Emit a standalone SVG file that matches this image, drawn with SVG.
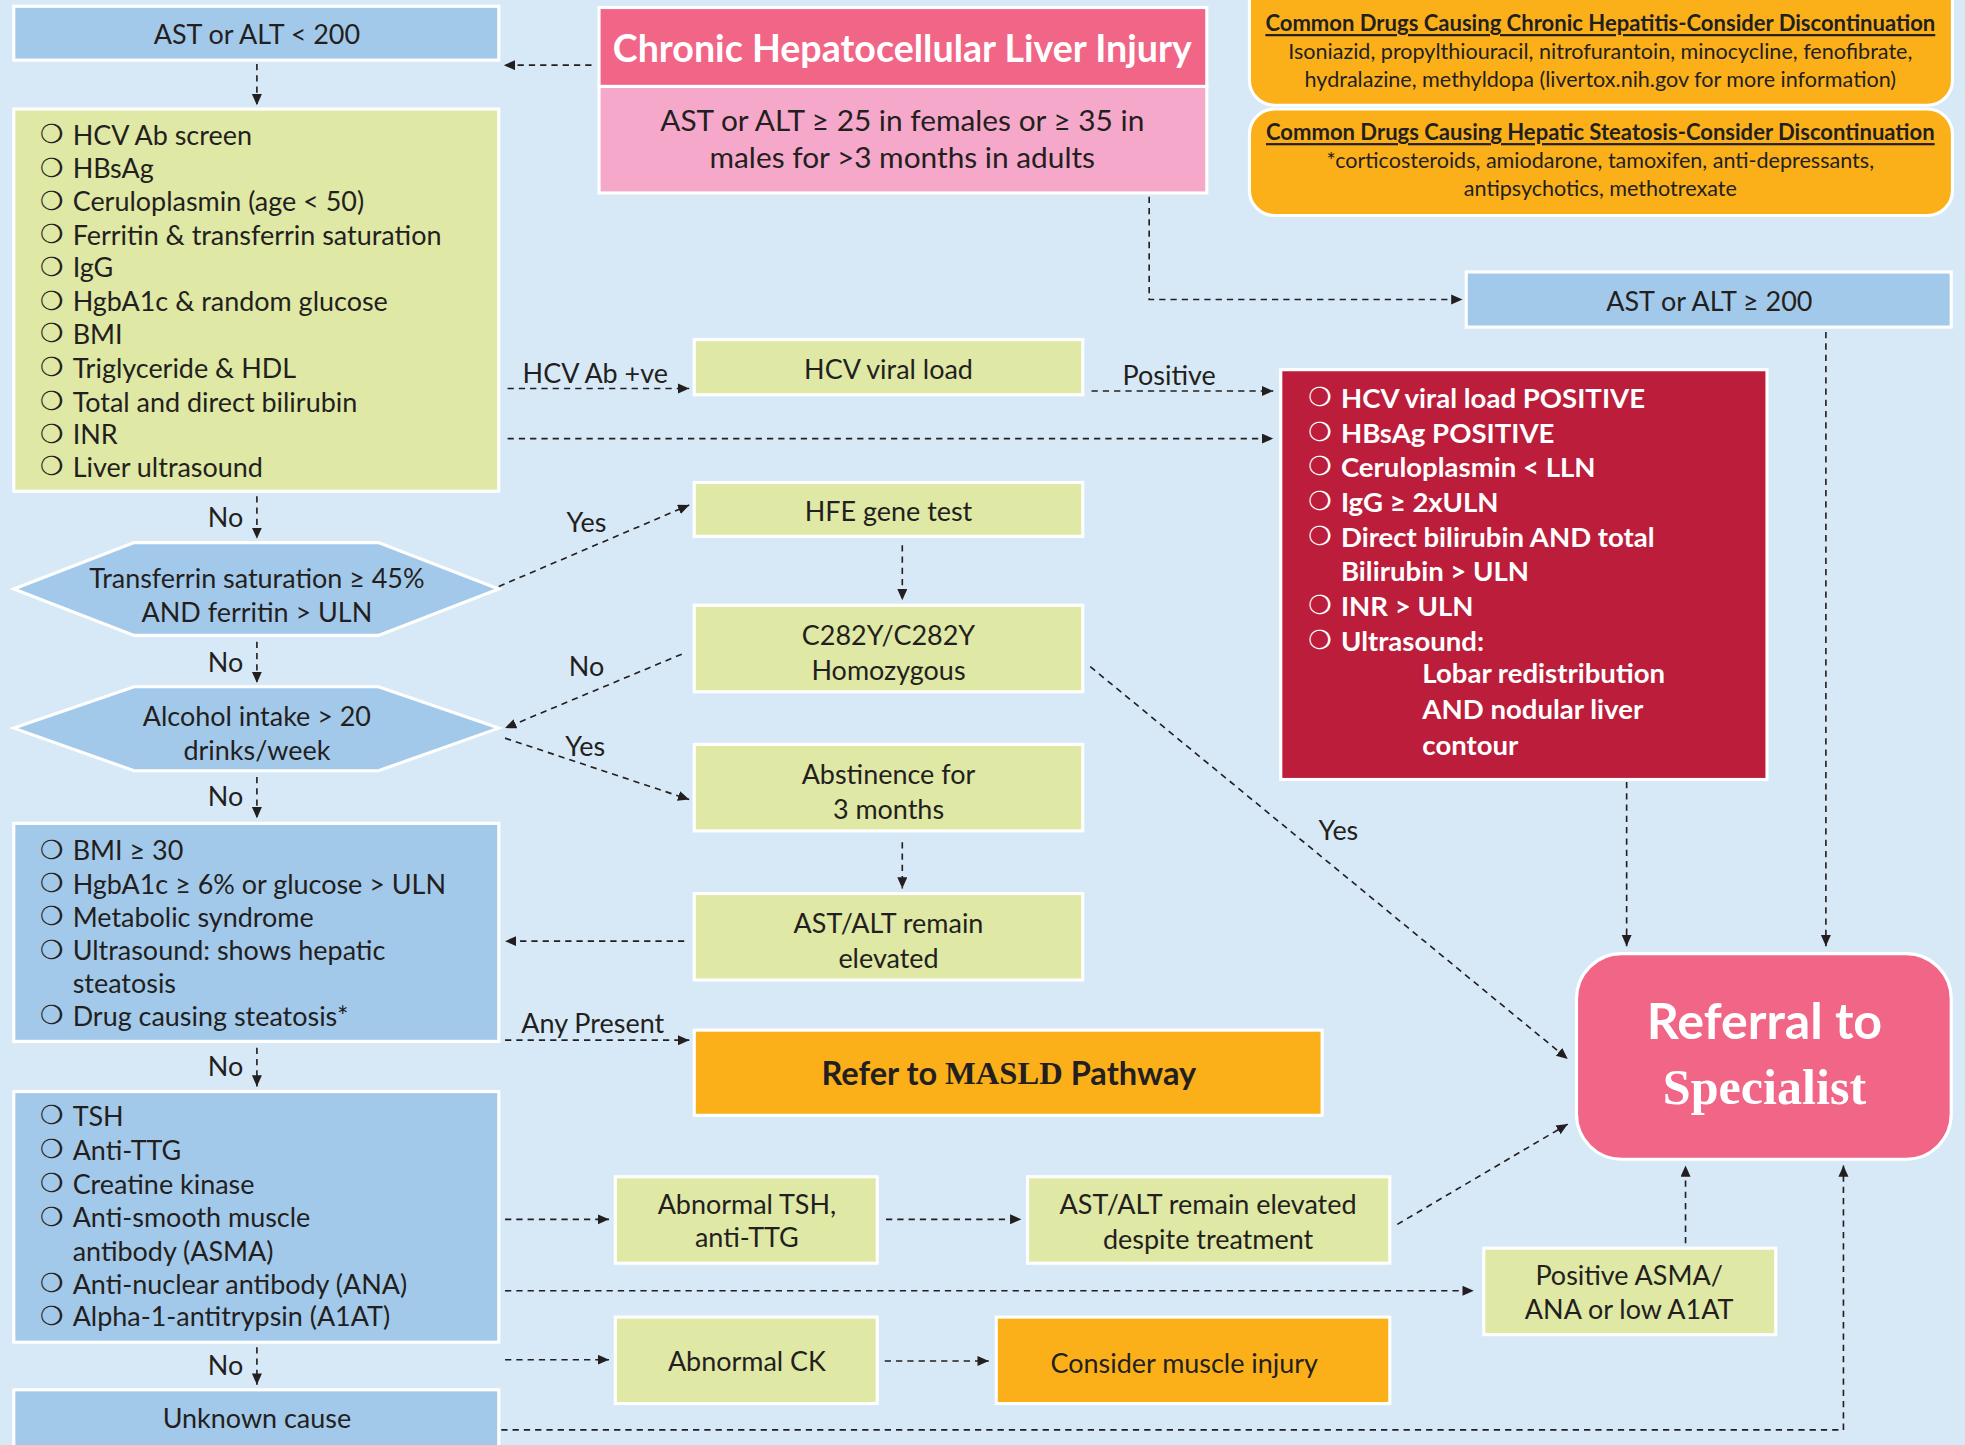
<svg xmlns="http://www.w3.org/2000/svg" width="1965" height="1445" viewBox="0 0 1965 1445">
<defs>
<marker id="ah" markerUnits="userSpaceOnUse" markerWidth="10" markerHeight="10" refX="9" refY="4" orient="auto">
<path d="M0,0 L9,4 L0,8 z" fill="#231F20"/>
</marker>
<style>
text{font-family:Lato,"Open Sans","DejaVu Sans",sans-serif;fill:#231F20;dominant-baseline:central}
.c{text-anchor:middle}
.b{font-family:"DejaVu Sans",sans-serif;font-size:21px;font-weight:normal}
.t20{font-size:21.5px}
.t22{font-size:23.8px}
.w{fill:#FFFFFF}
.bold{font-weight:bold}
.rb{font-size:22px;font-weight:bold}
.blue{fill:#A3C9EA;stroke:#FFFFFF;stroke-width:2.5}
.green{fill:#DFE8A4;stroke:#FFFFFF;stroke-width:2.5}
.orange{fill:#FBB01A;stroke:#FFFFFF;stroke-width:2.5}
.red{fill:#BB1D3A;stroke:#FFFFFF;stroke-width:2.5}
.pink{fill:#F16587;stroke:#FFFFFF;stroke-width:2.5}
.lpink{fill:#F5A8C9;stroke:#FFFFFF;stroke-width:2.5}
.conn path{fill:none;stroke:#231F20;stroke-width:1.3;stroke-dasharray:5 4;marker-end:url(#ah)}
.lbl{font-size:21.5px;text-anchor:middle}
.dh{font-size:17.6px;font-weight:bold;text-decoration:underline}
.db{font-size:17.2px}
</style>
</defs>
<rect x="0" y="0" width="1965" height="1445" fill="#D7E9F6"/>
<g transform="scale(1.25319)">

<g id="ast-lt-200">
<rect class="blue" x="11" y="5" width="387" height="43"/>
<text class="c t20" x="205" y="27">AST or ALT &lt; 200</text>
</g>

<g id="title">
<rect class="pink" x="478" y="6" width="485" height="63"/>
<text class="c w bold" x="720" y="38" style="font-size:30px">Chronic Hepatocellular Liver Injury</text>
<rect class="lpink" x="478" y="69" width="485" height="85"/>
<text class="c t22" x="720" y="95">AST or ALT ≥ 25 in females or ≥ 35 in</text>
<text class="c t22" x="720" y="125">males for &gt;3 months in adults</text>
</g>

<g id="drugs-hepatitis">
<rect x="997" y="-20" width="561" height="104" rx="20" fill="#FBB01A" stroke="#FFFFFF" stroke-width="2.5"/>
<text class="c dh" x="1277" y="18">Common Drugs Causing Chronic Hepatitis-Consider Discontinuation</text>
<text class="c db" x="1277" y="41">Isoniazid, propylthiouracil, nitrofurantoin, minocycline, fenofibrate,</text>
<text class="c db" x="1277" y="63">hydralazine, methyldopa (livertox.nih.gov for more information)</text>
</g>

<g id="drugs-steatosis">
<rect x="997" y="87" width="561" height="85" rx="20" fill="#FBB01A" stroke="#FFFFFF" stroke-width="2.5"/>
<text class="c dh" x="1277" y="105">Common Drugs Causing Hepatic Steatosis-Consider Discontinuation</text>
<text class="c db" x="1277" y="128">*corticosteroids, amiodarone, tamoxifen, anti-depressants,</text>
<text class="c db" x="1277" y="150">antipsychotics, methotrexate</text>
</g>

<g id="ast-ge-200">
<rect class="blue" x="1170" y="217" width="387" height="44"/>
<text class="c t20" x="1364" y="240">AST or ALT ≥ 200</text>
</g>

<g id="initial-tests">
<rect class="green" x="11" y="87" width="387" height="305"/>
<g class="t20">
<text class="b" x="32" y="107">❍</text><text x="58" y="107">HCV Ab screen</text>
<text class="b" x="32" y="134">❍</text><text x="58" y="134">HBsAg</text>
<text class="b" x="32" y="160">❍</text><text x="58" y="160">Ceruloplasmin (age &lt; 50)</text>
<text class="b" x="32" y="187">❍</text><text x="58" y="187">Ferritin &amp; transferrin saturation</text>
<text class="b" x="32" y="213">❍</text><text x="58" y="213">IgG</text>
<text class="b" x="32" y="240">❍</text><text x="58" y="240">HgbA1c &amp; random glucose</text>
<text class="b" x="32" y="266">❍</text><text x="58" y="266">BMI</text>
<text class="b" x="32" y="293">❍</text><text x="58" y="293">Triglyceride &amp; HDL</text>
<text class="b" x="32" y="320">❍</text><text x="58" y="320">Total and direct bilirubin</text>
<text class="b" x="32" y="346">❍</text><text x="58" y="346">INR</text>
<text class="b" x="32" y="372">❍</text><text x="58" y="372">Liver ultrasound</text>
</g>
</g>

<g id="hcv-viral-load">
<rect class="green" x="554" y="271" width="310" height="44"/>
<text class="c t20" x="709" y="294">HCV viral load</text>
</g>

<g id="red-flags">
<rect class="red" x="1022" y="295" width="388" height="327"/>
<text class="b w" x="1044" y="317">❍</text><text class="w rb" x="1070" y="317">HCV viral load POSITIVE</text>
<text class="b w" x="1044" y="345">❍</text><text class="w rb" x="1070" y="345">HBsAg POSITIVE</text>
<text class="b w" x="1044" y="372">❍</text><text class="w rb" x="1070" y="372">Ceruloplasmin &lt; LLN</text>
<text class="b w" x="1044" y="400">❍</text><text class="w rb" x="1070" y="400">IgG ≥ 2xULN</text>
<text class="b w" x="1044" y="428">❍</text><text class="w rb" x="1070" y="428">Direct bilirubin AND total</text>
<text class="w rb" x="1070" y="455">Bilirubin &gt; ULN</text>
<text class="b w" x="1044" y="483">❍</text><text class="w rb" x="1070" y="483">INR &gt; ULN</text>
<text class="b w" x="1044" y="511">❍</text><text class="w rb" x="1070" y="511">Ultrasound:</text>
<text class="w rb" x="1135" y="537">Lobar redistribution</text>
<text class="w rb" x="1135" y="565">AND nodular liver</text>
<text class="w rb" x="1135" y="594">contour</text>
</g>

<g id="transferrin">
<polygon class="blue" points="11,470 107,433 302,433 398,470 302,507 107,507"/>
<text class="c t20" x="205" y="461">Transferrin saturation ≥ 45%</text>
<text class="c t20" x="205" y="488">AND ferritin &gt; ULN</text>
</g>

<g id="alcohol">
<polygon class="blue" points="11,581 107,548 302,548 398,581 302,615 107,615"/>
<text class="c t20" x="205" y="571">Alcohol intake &gt; 20</text>
<text class="c t20" x="205" y="598">drinks/week</text>
</g>

<g id="metabolic">
<rect class="blue" x="11" y="657" width="387" height="174"/>
<g class="t20">
<text class="b" x="32" y="678">❍</text><text x="58" y="678">BMI ≥ 30</text>
<text class="b" x="32" y="705">❍</text><text x="58" y="705">HgbA1c ≥ 6% or glucose &gt; ULN</text>
<text class="b" x="32" y="731">❍</text><text x="58" y="731">Metabolic syndrome</text>
<text class="b" x="32" y="758">❍</text><text x="58" y="758">Ultrasound: shows hepatic</text>
<text x="58" y="784">steatosis</text>
<text class="b" x="32" y="810">❍</text><text x="58" y="810">Drug causing steatosis*</text>
</g>
</g>

<g id="other-tests">
<rect class="blue" x="11" y="871" width="387" height="200"/>
<g class="t20">
<text class="b" x="32" y="890">❍</text><text x="58" y="890">TSH</text>
<text class="b" x="32" y="917">❍</text><text x="58" y="917">Anti-TTG</text>
<text class="b" x="32" y="944">❍</text><text x="58" y="944">Creatine kinase</text>
<text class="b" x="32" y="971">❍</text><text x="58" y="971">Anti-smooth muscle</text>
<text x="58" y="998">antibody (ASMA)</text>
<text class="b" x="32" y="1024">❍</text><text x="58" y="1024">Anti-nuclear antibody (ANA)</text>
<text class="b" x="32" y="1050">❍</text><text x="58" y="1050">Alpha-1-antitrypsin (A1AT)</text>
</g>
</g>

<g id="unknown">
<rect class="blue" x="11" y="1109" width="387" height="50"/>
<text class="c t20" x="205" y="1131">Unknown cause</text>
</g>

<g id="hfe">
<rect class="green" x="554" y="385" width="310" height="43"/>
<text class="c t20" x="709" y="407">HFE gene test</text>
</g>

<g id="c282y">
<rect class="green" x="554" y="483" width="310" height="69"/>
<text class="c t20" x="709" y="506">C282Y/C282Y</text>
<text class="c t20" x="709" y="534">Homozygous</text>
</g>

<g id="abstinence">
<rect class="green" x="554" y="594" width="310" height="69"/>
<text class="c t20" x="709" y="617">Abstinence for</text>
<text class="c t20" x="709" y="645">3 months</text>
</g>

<g id="remain-elevated">
<rect class="green" x="554" y="713" width="310" height="69"/>
<text class="c t20" x="709" y="736">AST/ALT remain</text>
<text class="c t20" x="709" y="764">elevated</text>
</g>

<g id="masld">
<rect class="orange" x="554" y="822" width="501" height="68"/>
<text class="c bold" x="805" y="856" style="font-size:26px">Refer to <tspan style="font-family:'Liberation Serif',serif">MASLD</tspan> Pathway</text>
</g>

<g id="abnormal-tsh">
<rect class="green" x="491" y="939" width="209" height="69"/>
<text class="c t20" x="596" y="960">Abnormal TSH,</text>
<text class="c t20" x="596" y="987">anti-TTG</text>
</g>

<g id="elevated-despite">
<rect class="green" x="820" y="939" width="289" height="69"/>
<text class="c t20" x="964" y="960">AST/ALT remain elevated</text>
<text class="c t20" x="964" y="988">despite treatment</text>
</g>

<g id="positive-asma">
<rect class="green" x="1184" y="996" width="233" height="69"/>
<text class="c t20" x="1300" y="1017">Positive ASMA/</text>
<text class="c t20" x="1300" y="1044">ANA or low A1AT</text>
</g>

<g id="abnormal-ck">
<rect class="green" x="491" y="1051" width="209" height="69"/>
<text class="c t20" x="596" y="1086">Abnormal CK</text>
</g>

<g id="muscle">
<rect class="orange" x="795" y="1051" width="314" height="69"/>
<text class="c t20" x="945" y="1087">Consider muscle injury</text>
</g>

<g id="referral">
<rect x="1258" y="761" width="299" height="164" rx="36" fill="#F16587" stroke="#FFFFFF" stroke-width="2.5"/>
<text class="c w bold" x="1408" y="814" style="font-size:40px">Referral to</text>
<text class="c w bold" x="1408" y="867" style="font-size:40px;font-family:'Liberation Serif',serif">Specialist</text>
</g>

<g id="connectors" class="conn">
<path d="M472,52 L402,52"/>
<path d="M205,51 L205,84"/>
<path d="M917,157 L917,239 L1167,239"/>
<path d="M1457,265 L1457,755"/>
<path d="M405,310 L550,310"/>
<path d="M871,312 L1016,312"/>
<path d="M405,350 L1016,350"/>
<path d="M205,396 L205,430"/>
<path d="M398,468 L550,403"/>
<path d="M720,435 L720,479"/>
<path d="M544,522 L403,581"/>
<path d="M205,512 L205,545"/>
<path d="M403,589 L550,638"/>
<path d="M720,672 L720,709"/>
<path d="M546,751 L403,751"/>
<path d="M205,620 L205,653"/>
<path d="M870,532 L1251,845"/>
<path d="M1298,624 L1298,755"/>
<path d="M403,830 L550,830"/>
<path d="M205,836 L205,867"/>
<path d="M403,973 L486,973"/>
<path d="M707,973 L815,973"/>
<path d="M1115,977 L1251,897"/>
<path d="M403,1030 L1176,1030"/>
<path d="M1345,992 L1345,930"/>
<path d="M403,1085 L486,1085"/>
<path d="M706,1086 L789,1086"/>
<path d="M205,1075 L205,1105"/>
<path d="M400,1141 L1471,1141 L1471,930"/>
</g>

<g id="labels">
<text class="lbl" x="475" y="297">HCV Ab +ve</text>
<text class="lbl" x="933" y="299">Positive</text>
<text class="lbl" x="180" y="412">No</text>
<text class="lbl" x="468" y="416">Yes</text>
<text class="lbl" x="468" y="531">No</text>
<text class="lbl" x="180" y="528">No</text>
<text class="lbl" x="467" y="595">Yes</text>
<text class="lbl" x="180" y="635">No</text>
<text class="lbl" x="1068" y="662">Yes</text>
<text class="lbl" x="473" y="816">Any Present</text>
<text class="lbl" x="180" y="850">No</text>
<text class="lbl" x="180" y="1089">No</text>
</g>

</g>
</svg>
